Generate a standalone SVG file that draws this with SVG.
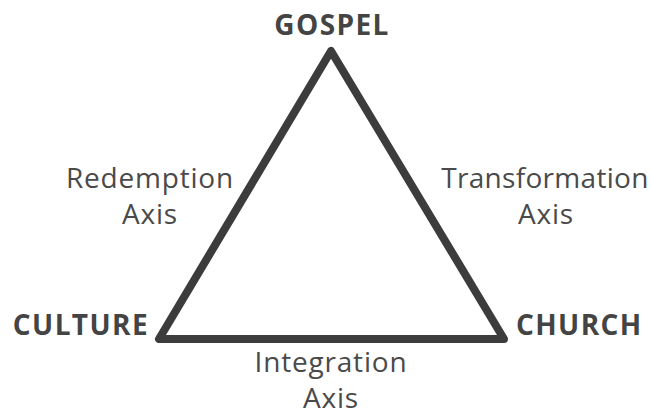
<svg xmlns="http://www.w3.org/2000/svg" width="651" height="409" viewBox="0 0 651 409">
<style>
.lbl{font-family:"Open Sans","Liberation Sans",sans-serif;font-size:28px;letter-spacing:0.8px;fill:#4a4a4a;text-anchor:middle}
.node{font-family:"Open Sans","Liberation Sans",sans-serif;font-size:28px;letter-spacing:1.4px;font-weight:bold;fill:#444;}
.edge{fill:none;stroke:#3c3c3c;stroke-width:8;stroke-linejoin:round;stroke-linecap:round}
</style>
<rect width="651" height="409" fill="#fff"/>
<g id="connectors">
<path class="edge" d="M331,51 L159,339 L504,339 Z"/>
</g>
<g id="gospel"><text class="node" x="332" y="35" text-anchor="middle">GOSPEL</text></g>
<g id="culture"><text class="node" x="149" y="335" text-anchor="end">CULTURE</text></g>
<g id="church"><text class="node" x="516" y="335" text-anchor="start">CHURCH</text></g>
<g id="redemption"><text class="lbl" x="150" y="188">Redemption</text><text class="lbl" x="150" y="224">Axis</text></g>
<g id="transformation"><text class="lbl" x="545" y="188" style="letter-spacing:0.3px">Transformation</text><text class="lbl" x="546" y="224">Axis</text></g>
<g id="integration"><text class="lbl" x="331" y="372">Integration</text><text class="lbl" x="331" y="408">Axis</text></g>
</svg>
